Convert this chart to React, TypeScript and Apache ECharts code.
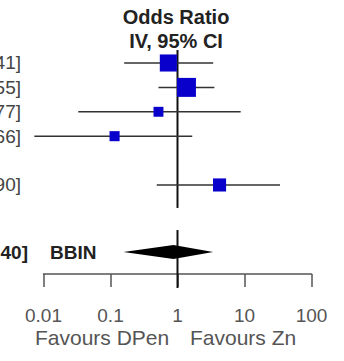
import React, { useEffect, useRef } from "react";
import * as echarts from "echarts";

// ---- data ----
const studyCiText = ["[0.16, 3.41]", "[0.52, 3.55]", "[0.03, 8.77]", "[0.01, 1.66]", "[0.49, 33.90]"];
const studyOR = [0.73, 1.36, 0.52, 0.115, 4.24];
const studyLower = [0.16, 0.52, 0.033, 0.0073, 0.49];
const studyUpper = [3.41, 3.55, 8.77, 1.66, 33.9];
const studyWeight = [28.5, 35.2, 9.6, 9.9, 16.8];
const studyRow = [1, 2, 3, 4, 6];

const totalCiText = "[0.16, 3.40]";
const totalLabel = "BBIN";
const totalOR = [0.87];
const totalLower = [0.156];
const totalUpper = [3.4];
const totalRow = [8.75];

const tickLabels = ["0.01", "0.1", "1", "10", "100"];
const titleLines = ["Odds Ratio", "IV, 95% CI"];
const favourLabels = ["Favours DPen", "Favours Zn"];

const FONT = "'Liberation Sans', Arial, sans-serif";

export default function App() {
  const ref = useRef<HTMLDivElement>(null);
  useEffect(() => {
    document.body.style.margin = "0";
    const chart = echarts.init(ref.current!, null, { renderer: "svg" });
    const studyData = studyOR.map((v, i) => [studyLower[i], studyUpper[i], v, studyRow[i], studyWeight[i]]);
    const totalData = totalOR.map((v, i) => [totalLower[i], totalUpper[i], v, totalRow[i]]);

    chart.setOption({
      animation: false,
      backgroundColor: "#ffffff",
      grid: { left: 43.5, right: 32.5, top: 38.6, bottom: 87 },
      xAxis: {
        type: "log",
        logBase: 10,
        min: 0.01,
        max: 100,
        position: "bottom",
        splitLine: { show: false },
        minorTick: { show: false },
        axisLine: { show: true, onZero: false, lineStyle: { color: "#555", width: 1.5 } },
        axisTick: { show: true, length: 13, lineStyle: { color: "#555", width: 1.5 } },
        axisLabel: {
          margin: 32,
          fontSize: 19,
          color: "#555",
          fontFamily: FONT,
          formatter: (_v: number, idx: number) => tickLabels[idx] ?? "",
        },
      },
      yAxis: { type: "value", min: 0, max: 9.65, inverse: true, show: false },
      series: [
        {
          // reference line at OR = 1
          type: "custom",
          clip: false,
          z: 1,
          data: [[1, studyRow[0], studyRow[studyRow.length - 1], totalRow[0]]],
          renderItem: (_p: any, api: any) => {
            const top = api.coord([api.value(0), api.value(1)]);
            const mid = api.coord([api.value(0), api.value(2)]);
            const tot = api.coord([api.value(0), api.value(3)]);
            const axisY = api.coord([api.value(0), 9.65])[1];
            return {
              type: "group",
              children: [
                { type: "line", shape: { x1: top[0], y1: top[1] - 13, x2: mid[0], y2: mid[1] + 23 }, style: { stroke: "#111", lineWidth: 2 } },
                { type: "line", shape: { x1: tot[0], y1: tot[1] - 22, x2: tot[0], y2: axisY + 14 }, style: { stroke: "#111", lineWidth: 2 } },
              ],
            };
          },
        },
        {
          type: "custom",
          clip: false,
          z: 2,
          data: studyData,
          renderItem: (p: any, api: any) => {
            const lo = api.coord([api.value(0), api.value(3)]);
            const hi = api.coord([api.value(1), api.value(3)]);
            const c = api.coord([api.value(2), api.value(3)]);
            const s = 3.2 * Math.sqrt(api.value(4));
            return {
              type: "group",
              children: [
                { type: "line", shape: { x1: lo[0], y1: lo[1], x2: hi[0], y2: hi[1] }, style: { stroke: "#333", lineWidth: 1.5 } },
                { type: "rect", shape: { x: c[0] - s / 2, y: c[1] - s / 2, width: s, height: s }, style: { fill: "#0a00cc" } },
                {
                  type: "text",
                  x: 21,
                  y: c[1],
                  style: { text: studyCiText[p.dataIndex], align: "right", verticalAlign: "middle", fontSize: 19, fill: "#444", fontFamily: FONT },
                },
              ],
            };
          },
        },
        {
          type: "custom",
          clip: false,
          z: 2,
          data: totalData,
          renderItem: (_p: any, api: any) => {
            const lo = api.coord([api.value(0), api.value(3)]);
            const hi = api.coord([api.value(1), api.value(3)]);
            const c = api.coord([api.value(2), api.value(3)]);
            const h = 7;
            return {
              type: "group",
              children: [
                {
                  type: "polygon",
                  shape: { points: [[lo[0], lo[1]], [c[0], c[1] - h], [hi[0], hi[1]], [c[0], c[1] + h]] },
                  style: { fill: "#000" },
                },
                {
                  type: "text",
                  x: 28,
                  y: c[1],
                  style: { text: totalCiText, align: "right", verticalAlign: "middle", fontSize: 19, fontWeight: "bold", fill: "#222", fontFamily: FONT },
                },
                {
                  type: "text",
                  x: 50,
                  y: c[1],
                  style: { text: totalLabel, align: "left", verticalAlign: "middle", fontSize: 19, fontWeight: "bold", fill: "#222", fontFamily: FONT },
                },
              ],
            };
          },
        },
      ],
      graphic: [
        { type: "text", x: 176, y: 17, style: { text: titleLines[0], align: "center", verticalAlign: "middle", fontSize: 20, fontWeight: "bold", fill: "#222", fontFamily: FONT } },
        { type: "text", x: 176, y: 41, style: { text: titleLines[1], align: "center", verticalAlign: "middle", fontSize: 20, fontWeight: "bold", fill: "#222", fontFamily: FONT } },
        { type: "text", x: 35, y: 337, style: { text: favourLabels[0], align: "left", verticalAlign: "middle", fontSize: 21, fill: "#555", fontFamily: FONT } },
        { type: "text", x: 190, y: 337, style: { text: favourLabels[1], align: "left", verticalAlign: "middle", fontSize: 21, fill: "#555", fontFamily: FONT } },
      ],
    });
    return () => chart.dispose();
  }, []);
  return <div ref={ref} style={{ width: 344, height: 361 }} />;
}
